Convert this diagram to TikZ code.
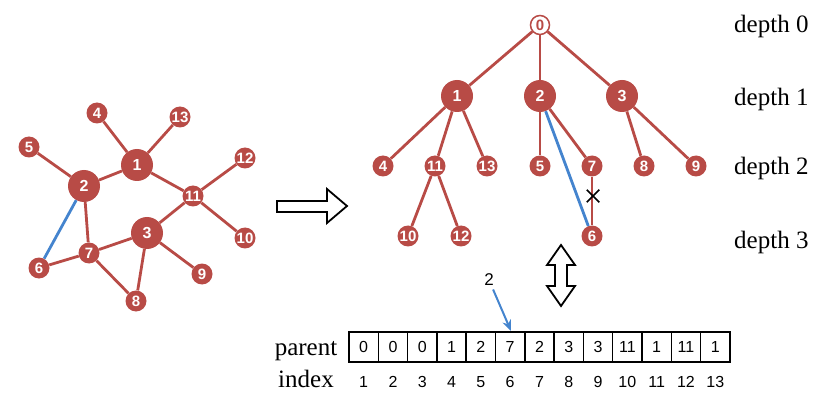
\documentclass[tikz,border=0pt]{standalone}
\usepackage{fontspec}
\setmainfont{Liberation Serif}
\setsansfont{Liberation Sans}
\usetikzlibrary{arrows.meta,shapes.misc}
\definecolor{treered}{RGB}{184,75,70}
\definecolor{linkblue}{RGB}{68,132,206}
\begin{document}
\begin{tikzpicture}[
    x=1pt, y=-1pt,
    vtx/.style={circle, fill=treered, text=white, inner sep=0pt, minimum size=21pt,
        font=\sffamily\bfseries\fontsize{15}{15}\selectfont},
    hub/.style={vtx, minimum size=32pt, font=\sffamily\bfseries\fontsize{16}{16}\selectfont},
    rootv/.style={circle, draw=treered, line width=1.5pt, fill=white, text=treered,
        inner sep=0pt, minimum size=19pt, font=\sffamily\bfseries\fontsize{15}{15}\selectfont},
    link/.style={treered, line width=2.8pt},
    backlink/.style={linkblue, line width=2.8pt},
    cell/.style={draw, line width=1.5pt, minimum width=29.3pt, minimum height=30pt,
        inner sep=0pt, font=\sffamily\fontsize{16}{16}\selectfont},
    idx/.style={font=\sffamily\fontsize{16}{16}\selectfont},
    lbl/.style={font=\fontsize{25}{25}\selectfont, inner sep=0pt},
    fat/.style={draw, line width=1.8pt, fill=white, line join=miter}
]
\useasboundingbox (0,0) rectangle (830,398);

% graph
\node[hub] (g1) at (137,165) {1};
\node[hub] (g2) at (84,186) {2};
\node[hub] (g3) at (147,233) {3};
\node[vtx] (g4) at (97,113) {4};
\node[vtx] (g5) at (29,147) {5};
\node[vtx] (g6) at (39,268) {6};
\node[vtx] (g7) at (89,253) {7};
\node[vtx] (g8) at (136,301) {8};
\node[vtx] (g9) at (202,274) {9};
\node[vtx] (g10) at (245,238) {10};
\node[vtx] (g11) at (193,196) {11};
\node[vtx] (g12) at (245,158) {12};
\node[vtx] (g13) at (180,117) {13};
\foreach \a/\b in {4/1, 13/1, 5/2, 2/1, 1/11, 12/11, 11/10, 11/3, 2/7, 6/7, 7/3, 7/8, 3/8, 3/9}
    \draw[link] (g\a) -- (g\b);
\draw[backlink] (g2) -- (g6);

% tree
\node[rootv] (t0) at (540,25) {0};
\node[hub] (t1) at (457,96) {1};
\node[hub] (t2) at (540,96) {2};
\node[hub] (t3) at (622,96) {3};
\node[vtx] (t4) at (383,166) {4};
\node[vtx] (t11) at (435,166) {11};
\node[vtx] (t13) at (487,166) {13};
\node[vtx] (t5) at (540,166) {5};
\node[vtx] (t7) at (592,166) {7};
\node[vtx] (t8) at (644,166) {8};
\node[vtx] (t9) at (696,166) {9};
\node[vtx] (t10) at (408,236) {10};
\node[vtx] (t12) at (461,236) {12};
\node[vtx] (t6) at (592,236) {6};
\foreach \a/\b in {0/1, 0/2, 0/3, 1/4, 1/11, 1/13, 2/5, 2/7, 3/8, 3/9, 11/10, 11/12, 7/6}
    \draw[link] (t\a) -- (t\b);
\draw[backlink] (t2) -- (t6);
\node[cross out, draw, line width=1.5pt, minimum size=11pt, inner sep=0pt] (cut) at (593,196) {};

% depth labels
\foreach \d/\y in {0/33, 1/106, 2/175, 3/248}
    \node[lbl, anchor=base west] (depth\d) at (734,\y) {depth \d};

% arrows
\draw[fat] (277,201) -- (327,201) -- (327,189) -- (347,206) -- (327,223)
    -- (327,212) -- (277,212) -- cycle;
\draw[fat] (561,245) -- (575,265) -- (567,265) -- (567,286) -- (575,286) -- (561,306)
    -- (547,286) -- (555,286) -- (555,265) -- (547,265) -- cycle;

% parent array
\foreach \v [count=\i] in {0,0,0,1,2,7,2,3,3,11,1,11,1} {
    \node[cell] (p\i) at ({349+29.3*(\i-0.5)},347) {\v};
    \node[idx, anchor=base] (i\i) at ({349+29.3*(\i-0.5)},387) {\i};
}
\node[lbl, anchor=base] (parent) at (306,355) {parent};
\node[lbl, anchor=base] (index) at (306,387) {index};
\node[idx] (hint) at (489,280) {\fontsize{17}{17}\selectfont 2};
\coordinate (hinttip) at (511,331);
\draw[linkblue, line width=2pt, -{Stealth[length=11pt,width=9pt]}] (hint) -- (hinttip);
\end{tikzpicture}
\end{document}
